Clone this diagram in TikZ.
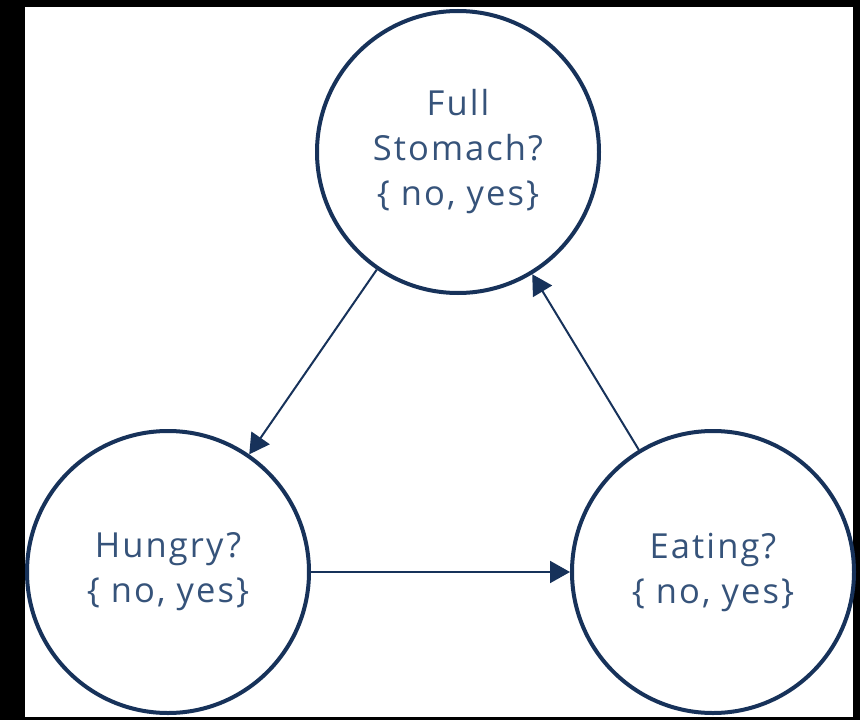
\documentclass[tikz,border=0pt]{standalone}
\usepackage{fontspec}
\setmainfont{Open Sans}
\newfontfamily\labelfont{Open Sans}[LetterSpace=6]
\usetikzlibrary{arrows.meta}
\definecolor{ringblue}{HTML}{17325A}
\definecolor{labelblue}{HTML}{36537A}
\begin{document}
\begin{tikzpicture}[x=1pt,y=-1pt,
  state/.style={circle,draw=ringblue,line width=4pt,minimum size=282pt,
    inner sep=0pt,align=center,text=labelblue,
    font=\labelfont\fontsize{34.5}{45}\selectfont},
  link/.style={draw=ringblue,line width=2pt,
    -{Triangle[length=20pt,width=22pt]}}]
  % frame
  \fill[black] (0,0) rectangle (860,720);
  \fill[white] (25,7) rectangle (853,717);
  \useasboundingbox (0,0) rectangle (860,720);
  % states
  \node[state] (full) at (458,152) {Full\\Stomach?\\\{ no, yes\}};
  \node[state] (hungry) at (168,572) {Hungry?\\\{ no, yes\}};
  \node[state] (eating) at (713,572) {Eating?\\\{ no, yes\}};
  % transitions
  \draw[link] (full) -- (hungry);
  \draw[link] (hungry) -- (eating);
  \draw[link] (eating) -- (full);
\end{tikzpicture}
\end{document}
